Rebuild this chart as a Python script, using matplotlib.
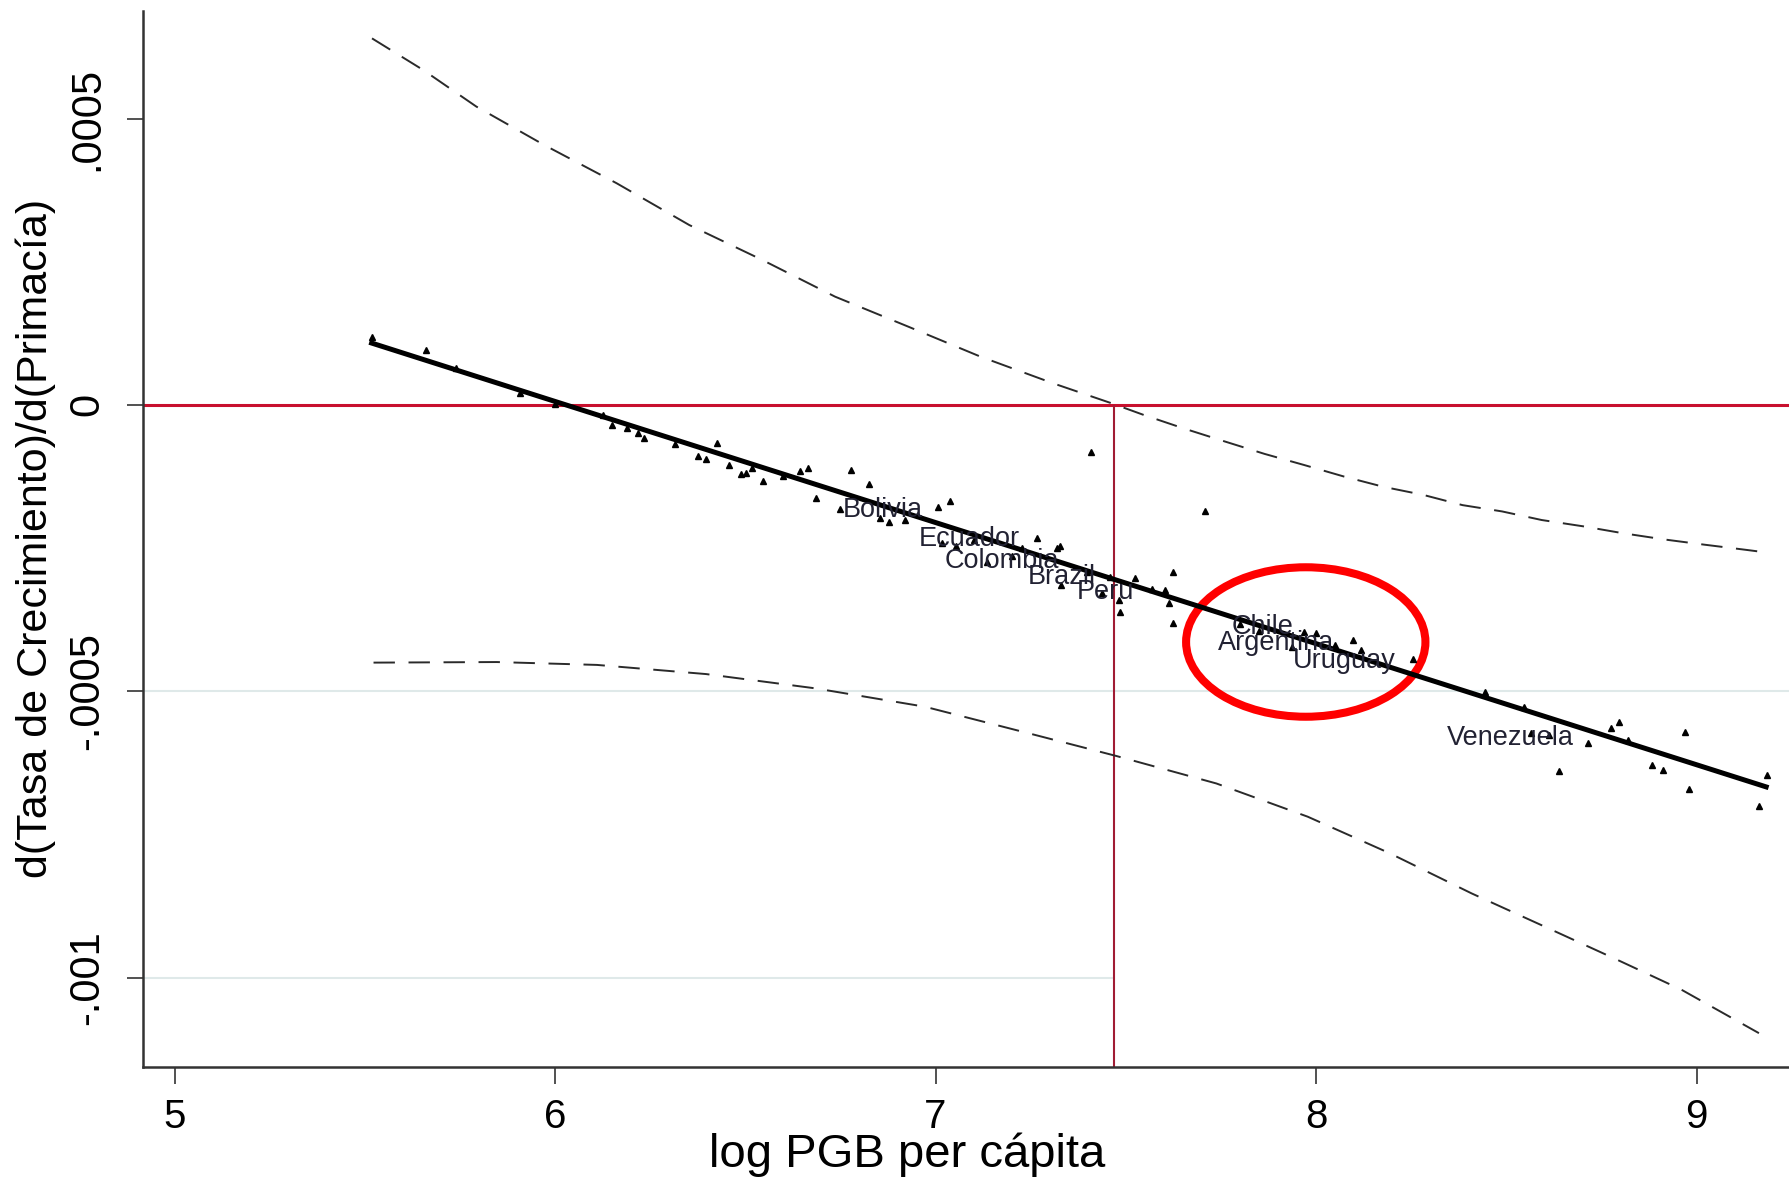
import matplotlib
matplotlib.use("Agg")
import matplotlib.pyplot as plt
from matplotlib.patches import Ellipse

plt.rcParams['font.family'] = ['Liberation Sans', 'DejaVu Sans']

# marginal effect (fitted line) and 95% band
fit_x = [5.518, 9.183]
fit_y = [0.000108, -0.000667]

band_hi_x = [5.519, 5.653, 5.793, 5.971, 6.162, 6.353, 6.545, 6.736, 6.927, 7.118, 7.309,
             7.462, 7.547, 7.651, 7.761, 7.865, 7.969, 8.073, 8.177, 8.281, 8.385, 8.489,
             8.593, 8.702, 8.806, 8.916, 9.020, 9.129, 9.164]
band_hi = [0.000640, 0.000585, 0.000521, 0.000454, 0.000387, 0.000314, 0.000253, 0.000189,
           0.000137, 0.0000843, 0.0000377, 0.000003, -0.0000175, -0.0000408, -0.0000640,
           -0.0000856, -0.000105, -0.000125, -0.000143, -0.000157, -0.000175, -0.000186,
           -0.000201, -0.000212, -0.000224, -0.000235, -0.000244, -0.000253, -0.000256]
band_lo_x = [5.523, 5.847, 6.110, 6.397, 6.685, 6.972, 7.260, 7.475, 7.738, 7.978, 8.194,
             8.409, 8.601, 8.792, 8.960, 9.164]
band_lo = [-0.000450, -0.000449, -0.000454, -0.000470, -0.000495, -0.000527, -0.000576,
           -0.000613, -0.000661, -0.000719, -0.000783, -0.000853, -0.000911, -0.000969,
           -0.001021, -0.001097]

# observations
obs_x = [5.520, 5.660, 5.739, 5.908, 6.000, 6.127, 6.149, 6.188, 6.219, 6.234, 6.315, 6.375,
         6.396, 6.426, 6.457, 6.490, 6.503, 6.517, 6.546, 6.600, 6.644, 6.665, 6.686, 6.749,
         6.779, 6.826, 6.854, 6.878, 6.920, 7.007, 7.038, 7.016, 7.055, 7.100, 7.134, 7.200,
         7.226, 7.266, 7.318, 7.327, 7.331, 7.397, 7.408, 7.437, 7.459, 7.483, 7.485, 7.524,
         7.568, 7.603, 7.614, 7.625, 7.625, 7.708, 7.800, 7.850, 7.938, 7.969, 7.999, 8.050,
         8.097, 8.117, 8.255, 8.444, 8.546, 8.566, 8.612, 8.638, 8.714, 8.775, 8.796, 8.821,
         8.882, 8.913, 8.969, 8.979, 9.163, 9.185]
obs_y = [0.000119, 0.000096, 0.000064, 0.000020, 0.000002, -0.0000175, -0.000035, -0.000041,
         -0.000049, -0.000058, -0.000068, -0.000090, -0.000095, -0.000066, -0.000105, -0.000120,
         -0.000119, -0.000111, -0.000133, -0.000125, -0.000116, -0.000111, -0.000162, -0.000182,
         -0.000113, -0.000138, -0.000198, -0.000204, -0.000201, -0.000179, -0.000168, -0.000241,
         -0.000247, -0.000236, -0.000274, -0.000263, -0.000250, -0.000233, -0.000250, -0.000247,
         -0.000314, -0.000291, -0.0000815, -0.000329, -0.000300, -0.000340, -0.000361, -0.000303,
         -0.000322, -0.000323, -0.000346, -0.000291, -0.000380, -0.000185, -0.000383, -0.000394,
         -0.000422, -0.000396, -0.000399, -0.000420, -0.000410, -0.000428, -0.000444, -0.000501,
         -0.000527, -0.000573, -0.000576, -0.000640, -0.000591, -0.000565, -0.000553, -0.000585,
         -0.000629, -0.000637, -0.000572, -0.000671, -0.000701, -0.000646]

countries = ['Bolivia', 'Ecuador', 'Colombia', 'Brazil', 'Peru',
             'Chile', 'Argentina', 'Uruguay', 'Venezuela']
country_x = [6.757, 6.955, 7.024, 7.243, 7.371, 7.778, 7.743, 7.940, 8.344]
country_y = [-0.000183, -0.000235, -0.000273, -0.000301, -0.000327,
             -0.000387, -0.000416, -0.000448, -0.000582]

threshold_x = 7.47
circle_xy = (7.973, -0.000414)
circle_w, circle_h = 0.629, 0.000261

xticks = [5, 6, 7, 8, 9]
yticks = [0.0005, 0, -0.0005, -0.001]
ytick_labels = ['.0005', '0', '-.0005', '-.001']

fig = plt.figure(figsize=(17.89, 11.83), dpi=100)
ax = fig.add_axes([0.0799, 0.0981, 0.9201, 0.8927])
ax.set_xlim(4.917, 9.243)
ax.set_ylim(-0.001156, 0.000688)

# light grid lines
ax.axhline(-0.0005, color='#dfe9e9', lw=1.5, zorder=0)
ax.hlines(-0.001, 4.917, threshold_x, color='#dfe9e9', lw=1.5, zorder=0)

# reference lines
ax.axhline(0, color='#c8102e', lw=2.2, zorder=1)
ax.vlines(threshold_x, -0.001156, 0, color='#a01c34', lw=1.5, zorder=1)

ax.plot(band_hi_x, band_hi, color='#2a2a2a', lw=1.4, dashes=(11, 7))
ax.plot(band_lo_x, band_lo, color='#2a2a2a', lw=1.4, dashes=(11, 7))
ax.plot(fit_x, fit_y, color='black', lw=3.6)
ax.plot(obs_x, obs_y, ls='none', marker='^', ms=5, color='black')

for name, cx, cy in zip(countries, country_x, country_y):
    ax.text(cx, cy, name, fontsize=19.5, color='#222233', ha='left', va='center')

ax.add_patch(Ellipse(circle_xy, circle_w, circle_h, fill=False, ec='#ff0000', lw=5.8))

ax.set_xticks(xticks)
ax.set_yticks(yticks)
ax.set_yticklabels(ytick_labels, rotation=90, va='center')
ax.tick_params(axis='x', length=12, width=1.2, pad=10, labelsize=29, color='#333333')
ax.tick_params(axis='y', length=11.5, width=1.2, pad=14, labelsize=30, color='#333333')

for s in ['top', 'right']:
    ax.spines[s].set_visible(False)
for s in ['left', 'bottom']:
    ax.spines[s].set_color('#333333')
    ax.spines[s].set_linewidth(1.8)

ax.set_xlabel('log PGB per cápita', fontsize=34, labelpad=2)
ax.xaxis.set_label_coords(0.464, -0.062)
ax.set_ylabel('d(Tasa de Crecimiento)/d(Primacía)', fontsize=31, labelpad=8)

fig.savefig('out.png', dpi=100)
